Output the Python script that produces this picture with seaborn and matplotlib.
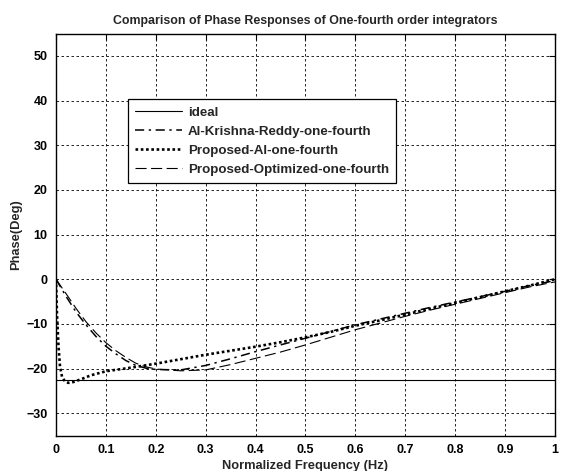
import matplotlib
matplotlib.use("Agg")
import matplotlib.pyplot as plt
import seaborn as sns
import pandas as pd

# ---- data ----
ideal_x = [0.0, 1.0]
ideal_y = [-22.5, -22.5]

akr_x = [0, 0.02, 0.04, 0.06, 0.08, 0.1, 0.12, 0.14, 0.16, 0.18, 0.2, 0.25, 0.3,
         0.35, 0.4, 0.45, 0.5, 0.55, 0.6, 0.65, 0.7, 0.75, 0.8, 0.85, 0.9, 0.95, 1.0]
akr_y = [0, -3.8, -7.3, -10.2, -12.8, -15.0, -16.7, -18.2, -19.3, -19.9, -20.2, -20.3, -19.3,
         -17.8, -16.2, -14.7, -13.2, -11.7, -10.2, -8.9, -7.6, -6.3, -5.1, -3.9, -2.7, -1.4, -0.3]

pal_x = [0, 0.002, 0.005, 0.008, 0.012, 0.018, 0.025, 0.035, 0.05, 0.07, 0.1, 0.15, 0.2,
         0.25, 0.3, 0.35, 0.4, 0.45, 0.5, 0.55, 0.6, 0.65, 0.7, 0.75, 0.8, 0.85, 0.9, 0.95, 1.0]
pal_y = [0, -8, -15, -19.5, -21.8, -22.9, -23.2, -23.0, -22.4, -21.5, -20.6, -19.8, -18.9,
         -17.9, -16.9, -16.0, -15.1, -14.1, -13.0, -11.8, -10.4, -9.2, -7.9, -6.6, -5.3, -4.0, -2.7, -1.4, 0]

pop_x = [0, 0.02, 0.04, 0.06, 0.08, 0.1, 0.12, 0.14, 0.16, 0.18, 0.2, 0.25, 0.3,
         0.35, 0.4, 0.45, 0.5, 0.55, 0.6, 0.65, 0.7, 0.75, 0.8, 0.85, 0.9, 0.95, 1.0]
pop_y = [0, -3.2, -6.5, -9.5, -12.0, -14.2, -16.0, -17.5, -18.8, -19.6, -20.1, -20.5, -20.3,
         -19.1, -17.7, -16.3, -14.7, -13.0, -11.3, -9.8, -8.3, -6.9, -5.6, -4.3, -3.0, -1.7, -0.6]

series_names = ["ideal", "Al-Krishna-Reddy-one-fourth", "Proposed-Al-one-fourth",
                "Proposed-Optimized-one-fourth"]
x_ticks = [0, 0.1, 0.2, 0.3, 0.4, 0.5, 0.6, 0.7, 0.8, 0.9, 1.0]
x_ticklabels = ["0", "0.1", "0.2", "0.3", "0.4", "0.5", "0.6", "0.7", "0.8", "0.9", "1"]
y_ticks = [-30, -20, -10, 0, 10, 20, 30, 40, 50]

# ---- styling ----
sns.set_style("white")
plt.rcParams["font.family"] = ["Liberation Sans", "DejaVu Sans"]
plt.rcParams["font.weight"] = "bold"

fig = plt.figure(figsize=(5.64, 4.71), dpi=100)
ax = fig.add_axes([0.0993, 0.0752, 0.8847, 0.8535])

styles = [
    dict(lw=0.8, dashes=None),
    dict(lw=1.1, dashes=(6, 3, 1.5, 3)),
    dict(lw=1.9, dashes=(1, 1)),
    dict(lw=0.8, dashes=(10, 4)),
]
data = [(ideal_x, ideal_y), (akr_x, akr_y), (pal_x, pal_y), (pop_x, pop_y)]

for name, (xs, ys), st in zip(series_names, data, styles):
    df = pd.DataFrame({"x": xs, "y": ys})
    sns.lineplot(data=df, x="x", y="y", ax=ax, color="black", lw=st["lw"],
                 label=name, sort=False, estimator=None)
    line = ax.lines[-1]
    if st["dashes"] is not None:
        line.set_dashes(st["dashes"])

ax.set_xlim(0, 1)
ax.set_ylim(-35, 55)
ax.set_xticks(x_ticks)
ax.set_xticklabels(x_ticklabels)
ax.set_yticks(y_ticks)
ax.tick_params(direction="in", top=True, right=True, length=4, width=0.8,
               labelsize=9, colors="black", pad=6)
for lab in ax.get_xticklabels() + ax.get_yticklabels():
    lab.set_fontweight("bold")

ax.grid(True, color="black", linestyle=(0, (3, 3)), linewidth=0.6)
for sp in ax.spines.values():
    sp.set_color("black")
    sp.set_linewidth(1.0)

ax.set_title("Comparison of Phase Responses of One-fourth order integrators",
             fontsize=8.9, fontweight="bold", pad=7)
ax.set_xlabel("Normalized Frequency (Hz)", fontsize=9.3, fontweight="bold", labelpad=3)
ax.set_ylabel("Phase(Deg)", fontsize=9.3, fontweight="bold", labelpad=3)

leg = ax.legend(loc="upper left", bbox_to_anchor=(0.144, 0.837), borderaxespad=0,
                fontsize=9.6, handlelength=3.5, handletextpad=0.45, labelspacing=0.5,
                frameon=True, fancybox=False, borderpad=0.55)
leg.get_frame().set_edgecolor("black")
leg.get_frame().set_linewidth(0.9)
leg.get_frame().set_alpha(1)
for t in leg.get_texts():
    t.set_fontweight("bold")
for lh, st in zip(leg.get_lines(), styles):
    lh.set_color("black")
    lh.set_linewidth(st["lw"])
    if st["dashes"] is not None:
        lh.set_dashes(st["dashes"])

fig.savefig("out.png", dpi=100)
